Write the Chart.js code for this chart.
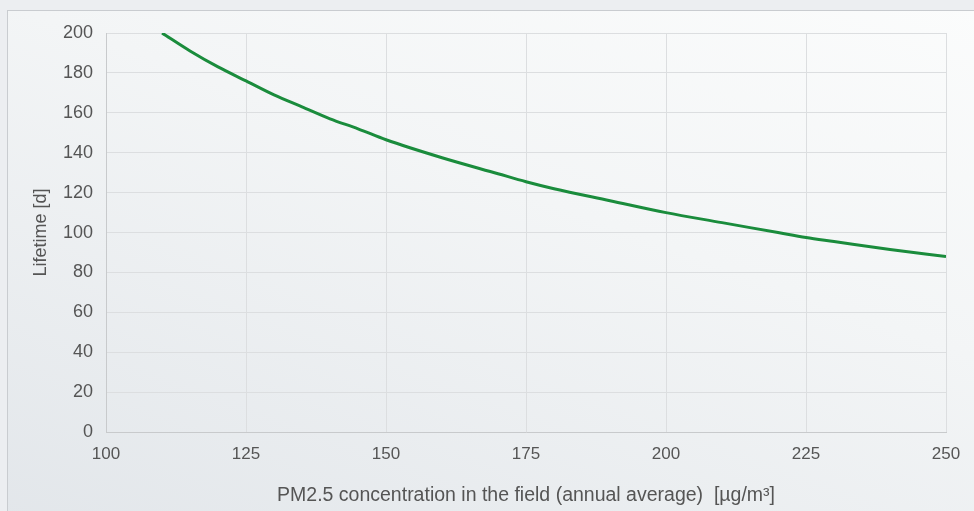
<!DOCTYPE html>
<html>
<head>
<meta charset="utf-8">
<script src="https://cdn.jsdelivr.net/npm/chart.js@4"></script>
<style>
  html, body { margin: 0; padding: 0; }
  body { width: 974px; height: 511px; background: #eceef1; overflow: hidden; position: relative; }
  #panel {
    position: absolute; left: 7px; top: 10px; width: 980px; height: 520px;
    border-top: 1px solid #c9ccd0; border-left: 1px solid #c9ccd0;
    background: linear-gradient(200deg, #fbfcfc 0%, #f3f5f6 40%, #e2e6ea 100%);
  }
  #canvas { position: absolute; left: 0; top: 0; }
</style>
</head>
<body>
<div id="panel"></div>
<canvas id="canvas" width="974" height="511"></canvas>
<script>
// PM2.5 concentration (µg/m³) vs. lifetime (days)
let concentracion = [110, 115, 120, 125, 130, 135, 140, 145, 150, 160, 170, 175, 180, 190, 200, 210, 220, 225, 230, 240, 250];
let vida = [200, 191, 183, 176, 169, 163, 157, 152, 146.5, 137.5, 129.5, 125.5, 122, 116, 110, 105, 100, 97.5, 95.5, 91.5, 88];
let ticksX = [100, 125, 150, 175, 200, 225, 250];
let ticksY = [0, 20, 40, 60, 80, 100, 120, 140, 160, 180, 200];

let puntos = [];
for (let i = 0; i < concentracion.length; i++) {
    puntos.push({ x: concentracion[i], y: vida[i] });
}

const ctx = document.getElementById('canvas');
new Chart(ctx, {
    type: 'scatter',
    data: {
        datasets: [{
            label: 'Lifetime',
            data: puntos,
            showLine: true,
            borderColor: '#1a8c3c',
            borderWidth: 3,
            pointRadius: 0,
            cubicInterpolationMode: 'monotone',
            fill: false
        }]
    },
    options: {
        responsive: false,
        animation: false,
        layout: { padding: { left: 32, right: 28, top: 33, bottom: 0 } },
        plugins: { legend: { display: false }, tooltip: { enabled: false } },
        scales: {
            x: {
                type: 'linear',
                min: 100, max: 250,
                afterBuildTicks: (axis) => { axis.ticks = ticksX.map(v => ({ value: v })); },
                grid: { color: '#dcdee0', drawTicks: false },
                border: { color: '#c8cacc' },
                ticks: { color: '#555', font: { family: 'Liberation Sans', size: 17 }, padding: 12, autoSkip: false, maxRotation: 0 },
                title: {
                    display: true,
                    text: 'PM2.5 concentration in the field (annual average)  [µg/m³]',
                    color: '#555', font: { family: 'Liberation Sans', size: 19.5 },
                    padding: { top: 7 }
                }
            },
            y: {
                min: 0, max: 200,
                afterBuildTicks: (axis) => { axis.ticks = ticksY.map(v => ({ value: v })); },
                grid: { color: '#dcdee0', drawTicks: false },
                border: { color: '#c8cacc' },
                ticks: { color: '#555', font: { family: 'Liberation Sans', size: 18 }, padding: 13, autoSkip: false },
                title: {
                    display: true,
                    text: 'Lifetime [d]',
                    color: '#555', font: { family: 'Liberation Sans', size: 18, lineHeight: 1 },
                    padding: { top: 0, bottom: 0 }
                }
            }
        }
    }
});
</script>
</body>
</html>
